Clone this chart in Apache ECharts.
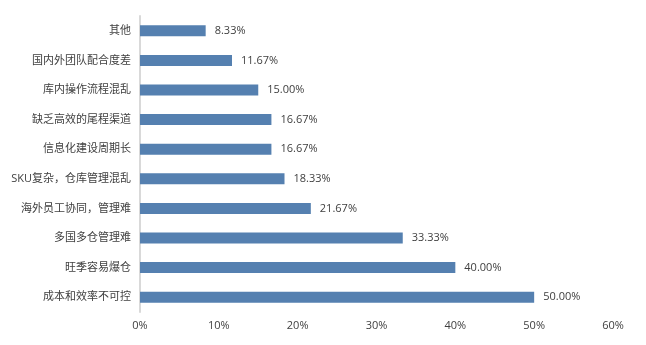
<!DOCTYPE html>
<html>
<head>
<meta charset="utf-8">
<script src="https://cdn.jsdelivr.net/npm/echarts@6/dist/echarts.min.js"></script>
<style>
  html, body { margin: 0; padding: 0; background: #fff; }
  #chart { width: 646px; height: 345px; }
</style>
</head>
<body>
<div id="chart"></div>
<script>
// Categories listed bottom to top (category axis starts at the bottom)
const categories = [
  '成本和效率不可控',
  '旺季容易爆仓',
  '多国多仓管理难',
  '海外员工协同，管理难',
  'SKU复杂，仓库管理混乱',
  '信息化建设周期长',
  '缺乏高效的尾程渠道',
  '库内操作流程混乱',
  '国内外团队配合度差',
  '其他'
];
// Share of respondents, percent
const shares = [50.00, 40.00, 33.33, 21.67, 18.33, 16.67, 16.67, 15.00, 11.67, 8.33];
const xTicks = [0, 10, 20, 30, 40, 50, 60];

const fontFamily = '"Open Sans", "Noto Sans CJK SC", sans-serif';
const textColor = '#404040';

const chart = echarts.init(document.getElementById('chart'), null, { renderer: 'canvas' });
chart.setOption({
  animation: false,
  grid: { left: 140, right: 33, top: 16, bottom: 33, containLabel: false },
  xAxis: {
    type: 'value',
    min: xTicks[0],
    max: xTicks[xTicks.length - 1],
    interval: 10,
    axisLine: { show: false },
    axisTick: { show: false },
    splitLine: { show: false },
    axisLabel: {
      color: textColor,
      fontSize: 11,
      fontFamily: fontFamily,
      margin: 8,
      formatter: v => v + '%'
    }
  },
  yAxis: {
    type: 'category',
    data: categories,
    axisLine: { show: true, lineStyle: { color: '#d9d9d9', width: 2 } },
    axisTick: { show: false },
    axisLabel: {
      color: textColor,
      fontSize: 11,
      fontFamily: fontFamily,
      margin: 9
    }
  },
  series: [{
    type: 'bar',
    data: shares,
    barWidth: 11,
    itemStyle: { color: '#5580B0' },
    label: {
      show: true,
      position: 'right',
      distance: 9,
      color: textColor,
      fontSize: 11,
      fontFamily: fontFamily,
      formatter: p => p.value.toFixed(2) + '%'
    }
  }]
});
</script>
</body>
</html>
